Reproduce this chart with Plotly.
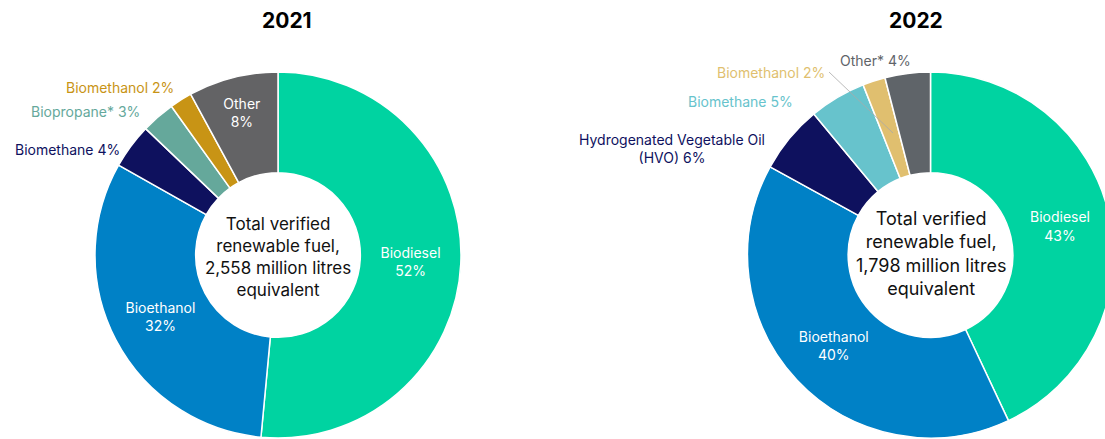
import plotly.graph_objects as go

# Renewable fuel mix by year (share of total verified volume, %)
labels_2021 = ["Biodiesel", "Bioethanol", "Biomethane", "Biopropane*", "Biomethanol", "Other"]
values_2021 = [52, 32, 4, 3, 2, 8]
colors_2021 = ["#00D3A1", "#0081C6", "#0E115E", "#65A89B", "#C89415", "#636365"]
inside_2021 = [True, True, False, False, False, True]
total_2021 = "2,558"

labels_2022 = ["Biodiesel", "Bioethanol", "Hydrogenated Vegetable Oil<br>(HVO)", "Biomethane",
               "Biomethanol", "Other*"]
values_2022 = [43, 40, 6, 5, 2, 4]
colors_2022 = ["#00D3A1", "#0081C6", "#0E115E", "#67C3CC", "#E0BF6F", "#5F6469"]
inside_2022 = [True, True, False, False, False, False]
total_2022 = "1,798"

FONT = "Inter"
W, H = 1120, 445      # canvas slightly larger than the view so the right ring bleeds off the edge
R = 183               # outer ring radius, px
CY = 255
CX_2021, CX_2022 = 278, 930.5


def px(x, y):
    """Pixel position -> paper coordinates."""
    return x / W, 1 - y / H


def domain(cx, cy, r):
    return dict(x=[(cx - r) / W, (cx + r) / W], y=[(H - cy - r) / H, (H - cy + r) / H])


def donut(labels, values, colors, inside, cx):
    return go.Pie(
        labels=labels,
        values=values,
        marker=dict(colors=colors, line=dict(color="white", width=1.5)),
        hole=0.45,
        sort=False,
        direction="clockwise",
        rotation=0,
        text=[f"{lab}<br>{v}%" for lab, v in zip(labels, values)],
        texttemplate="%{text}",
        textposition=["inside" if k else "none" for k in inside],
        insidetextorientation="horizontal",
        insidetextfont=dict(family=FONT, size=14, color="white"),
        showlegend=False,
        hoverinfo="label+value",
        domain=domain(cx, CY, R),
    )


fig = go.Figure()
fig.add_trace(donut(labels_2021, values_2021, colors_2021, inside_2021, CX_2021))
fig.add_trace(donut(labels_2022, values_2022, colors_2022, inside_2022, CX_2022))

annotations = []


def note(text, x, y, color, size, xanchor="center", bold=False, align="center"):
    px_x, px_y = px(x, y)
    annotations.append(dict(
        text=f"<b>{text}</b>" if bold else text,
        x=px_x, y=px_y, xref="paper", yref="paper",
        xanchor=xanchor, yanchor="middle", showarrow=False, align=align,
        font=dict(family=FONT, size=size, color=color),
    ))


# Year headings
note("2021", 287, 20, "#000000", 21, bold=True)
note("2022", 916, 20, "#000000", 21, bold=True)

# Centre totals
note(f"Total verified<br>renewable fuel,<br>{total_2021} million litres<br>equivalent",
     CX_2021, 257, "#111111", 17)
note(f"Total verified<br>renewable fuel,<br>{total_2022} million litres<br>equivalent",
     CX_2022, 253, "#111111", 18)

# Outside labels for the small 2021 slices (right-aligned toward the ring)
out_2021 = {2: (122, 149), 3: (142, 111), 4: (176, 87)}
for i, (x, y) in out_2021.items():
    note(f"{labels_2021[i]} {values_2021[i]}%", x, y, colors_2021[i], 14, xanchor="right")

# Outside labels for the small 2022 slices
out_2022 = {2: (672, 148, "center"), 3: (795, 102, "right"), 4: (827, 72, "right"), 5: (913, 60, "right")}
for i, (x, y, anchor) in out_2022.items():
    note(f"{labels_2022[i]} {values_2022[i]}%", x, y, colors_2022[i], 14, xanchor=anchor)

fig.update_layout(
    width=W, height=H,
    margin=dict(l=0, r=0, t=0, b=0),
    paper_bgcolor="white", plot_bgcolor="white",
    font=dict(family=FONT),
    annotations=annotations,
)

# Leader line from the 2022 Biomethanol label to its slice
x0, y0 = px(829, 72)
x1, y1 = px(893, 133)
fig.add_shape(type="line", xref="paper", yref="paper", x0=x0, y0=y0, x1=x1, y1=y1,
              line=dict(color="#A9A9A9", width=0.8))

fig.write_html(
    "out.html",
    config={"displayModeBar": False},
    post_script="document.documentElement.style.overflow='hidden';document.body.style.overflow='hidden';",
)
